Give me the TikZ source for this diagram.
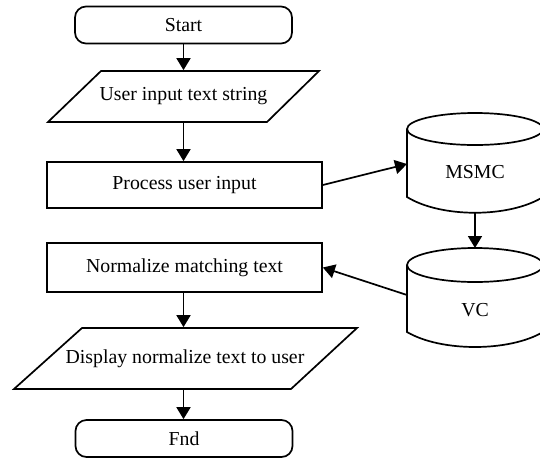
\documentclass[tikz,border=0pt]{standalone}
\usepackage{fontspec}
\setmainfont{Liberation Serif}
\usetikzlibrary{arrows.meta}
\begin{document}
\begin{tikzpicture}[x=1pt,y=-1pt,
  line width=1.7pt,
  every node/.style={font=\fontsize{19.8}{23}\selectfont, inner sep=0pt},
  term/.style={draw, rounded corners=11pt, minimum width=217pt, minimum height=37pt},
  proc/.style={draw, minimum width=275pt},
  ghost/.style={draw=none},
  arr/.style={-{Triangle[length=12pt,width=14pt]}}
]
\useasboundingbox (0,0) rectangle (540,459);

% left column
\node[term] (start) at (183.5,25) {Start};
\node[ghost, minimum width=200pt, minimum height=51pt] (in1) at (183.5,96.5) {User input text string};
\draw (101,71) -- (319,71) -- (267,122) -- (48,122) -- cycle;
\node[proc, minimum height=46pt] (proc) at (184.5,185) {Process user input};
\node[proc, minimum height=49pt] (norm) at (184.5,267.5) {Normalize matching text};
\node[ghost, minimum width=250pt, minimum height=61pt] (out) at (185,358.5) {Display normalize text to user};
\draw (82,328) -- (357,328) -- (291,389) -- (14,389) -- cycle;
\node[term] (end) at (184,438.5) {Fnd};

% cylinders
\draw (475,129) ellipse [x radius=68pt, y radius=16pt];
\draw (407,129) -- (407,197) .. controls (441,218) and (509,218) .. (543,197) -- (543,129);
\node (msmc) at (475,172) {MSMC};
\coordinate (msmcL) at (407,164);
\coordinate (msmcB) at (475,213);

\draw (475,265) ellipse [x radius=68pt, y radius=17pt];
\draw (407,265) -- (407,332) .. controls (441,352) and (509,352) .. (543,332) -- (543,265);
\node (vc) at (475,310) {VC};
\coordinate (vcL) at (407,295);
\coordinate (vcT) at (475,248);

% connectors
\draw[arr] (start.south) -- (start.south |- in1.north);
\draw[arr] (start.south |- in1.south) -- (start.south |- proc.north);
\draw[arr] (start.south |- norm.south) -- (start.south |- out.north);
\draw[arr] (start.south |- out.south) -- (start.south |- end.north);
\draw[arr] (proc.east) -- (msmcL);
\draw[arr] (msmcB) -- (vcT);
\draw[arr] (vcL) -- (norm.east);
\end{tikzpicture}
\end{document}
